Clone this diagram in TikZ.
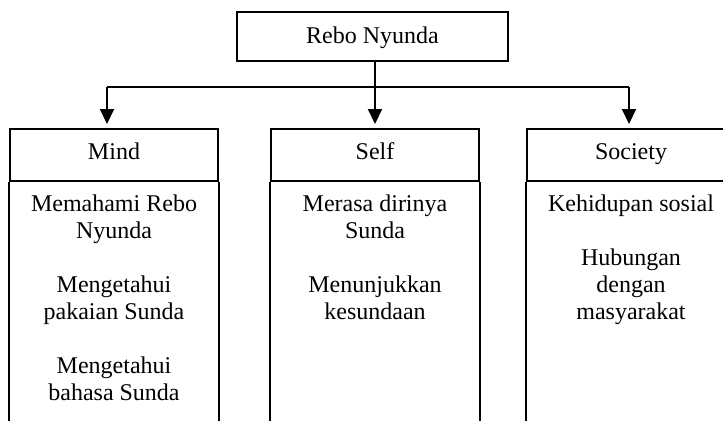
\documentclass[tikz,border=0pt]{standalone}
\usepackage{fontspec}
\setmainfont{Liberation Serif}
\usetikzlibrary{arrows.meta}
\begin{document}
\begin{tikzpicture}[x=0.5pt,y=-0.5pt,
  txt/.style={font={\fontsize{12pt}{13.5pt}\selectfont}},
  headbox/.style={txt, draw, line width=1pt, minimum width=104pt, minimum height=26pt,
    inner sep=0pt, text height=0.7em, text depth=0.25em},
  topbox/.style={txt, draw, line width=1pt, minimum width=135.5pt, minimum height=24.5pt,
    inner sep=0pt, text height=0.95em, text depth=0.24em},
  bodytext/.style={txt, align=center, anchor=north, inner sep=0pt},
  side/.style={line width=1pt},
  bus/.style={line width=0.7pt},
  arr/.style={line width=1pt, -{Triangle[length=7.5pt,width=7pt]}, shorten >=2pt}]
\useasboundingbox (0,0) rectangle (723,420);
\clip (0,0) rectangle (723,420);

\node[topbox] (top) at (372.5,36.5) {Rebo Nyunda};

\node[headbox] (mindh) at (114,155) {Mind};
\node[headbox] (selfh) at (375,155) {Self};
\node[headbox] (socih) at (631,155) {Society};

\draw[side] (mindh.south west) -- ++(0,300);
\draw[side] (mindh.south east) -- ++(0,300);
\draw[side] (selfh.south west) -- ++(0,300);
\draw[side] (selfh.south east) -- ++(0,300);
\draw[side] (socih.south west) -- ++(0,300);
\draw[side] (socih.south east) -- ++(0,300);

\node[bodytext] (mindb) at (114,194.5) {Memahami Rebo\\Nyunda\\[13.5pt]Mengetahui\\pakaian Sunda\\[13.5pt]Mengetahui\\bahasa Sunda};
\node[bodytext] (selfb) at (375,194.5) {Merasa dirinya\\Sunda\\[13.5pt]Menunjukkan\\kesundaan};
\node[bodytext] (socib) at (631,194.5) {Kehidupan sosial\\[13.5pt]Hubungan\\dengan\\masyarakat};

\coordinate (busL) at (107,87);
\coordinate (busR) at (629,87);
\draw[bus] (busL) -- (busR);
\draw[arr] (busL) -- (busL |- mindh.north);
\draw[arr] (selfh.north |- top.south) -- (selfh.north);
\draw[arr] (busR) -- (busR |- socih.north);
\end{tikzpicture}
\end{document}
